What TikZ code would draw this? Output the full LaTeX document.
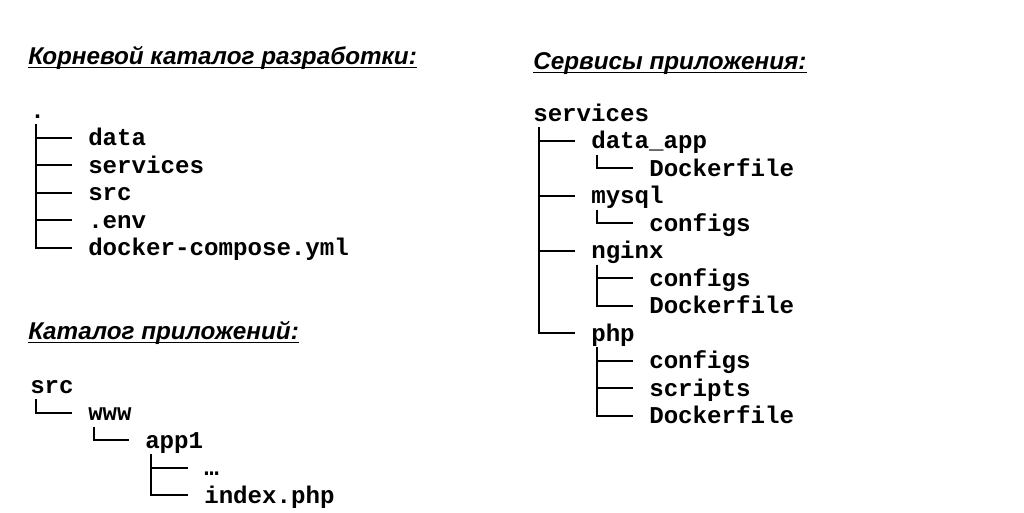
\documentclass[tikz,border=0pt]{standalone}
\usepackage{fontspec}
\usetikzlibrary{positioning}
\newfontfamily\treefont{Liberation Mono}
\newfontfamily\headfont{Liberation Sans}

\tikzset{
  entry/.style={font={\treefont\bfseries\fontsize{18.1pt}{20pt}\selectfont}, inner sep=0pt, anchor=base west},
  heading/.style={font={\headfont\bfseries\itshape\fontsize{18.2pt}{22pt}\selectfont}, inner sep=0pt, anchor=base west},
  branch/.style={line width=1.5pt, line cap=butt},
  uline/.style={line width=1.2pt}
}

\begin{document}
\begin{tikzpicture}[x=0.75pt,y=0.75pt]
    \useasboundingbox[fill=white] (0,0) rectangle (1024,512);

    % headings
    \node[heading] (h1) at (28,448) {Корневой каталог разработки:};
    \node[heading] (h2) at (28,173) {Каталог приложений:};
    \node[heading] (h3) at (533,443) {Сервисы приложения:};
    \foreach \h in {h1,h2,h3}
      \draw[uline] ([yshift=-2.6pt]\h.base west) -- ([yshift=-2.6pt]\h.base east);

    % root directory
    \node[entry] (r) at (30,394) {.};
    \node[entry, below right=20.625pt and 43.5pt of r.base west, anchor=base west] (r1) {data};
    \node[entry, below=20.625pt of r1.base west, anchor=base west] (r2) {services};
    \node[entry, below=20.625pt of r2.base west, anchor=base west] (r3) {src};
    \node[entry, below=20.625pt of r3.base west, anchor=base west] (r4) {.env};
    \node[entry, below=20.625pt of r4.base west, anchor=base west] (r5) {docker-compose.yml};

    % application directory
    \node[entry] (s) at (30,119) {src};
    \node[entry, below right=20.625pt and 43.5pt of s.base west, anchor=base west] (w) {www};
    \node[entry, below right=20.625pt and 42.75pt of w.base west, anchor=base west] (a) {app1};
    \node[entry, below right=20.625pt and 44.25pt of a.base west, anchor=base west] (a1) {…};
    \node[entry, below=20.625pt of a1.base west, anchor=base west] (a2) {index.php};

    % services
    \node[entry] (sv) at (533,391) {services};
    \node[entry, below right=20.625pt and 43.5pt of sv.base west, anchor=base west] (d) {data\_app};
    \node[entry, below right=20.625pt and 43.5pt of d.base west, anchor=base west] (d1) {Dockerfile};
    \node[entry, below left=20.625pt and 43.5pt of d1.base west, anchor=base west] (m) {mysql};
    \node[entry, below right=20.625pt and 43.5pt of m.base west, anchor=base west] (m1) {configs};
    \node[entry, below left=20.625pt and 43.5pt of m1.base west, anchor=base west] (n) {nginx};
    \node[entry, below right=20.625pt and 43.5pt of n.base west, anchor=base west] (n1) {configs};
    \node[entry, below=20.625pt of n1.base west, anchor=base west] (n2) {Dockerfile};
    \node[entry, below left=20.625pt and 43.5pt of n2.base west, anchor=base west] (p) {php};
    \node[entry, below right=20.625pt and 43.5pt of p.base west, anchor=base west] (p1) {configs};
    \node[entry, below=20.625pt of p1.base west, anchor=base west] (p2) {scripts};
    \node[entry, below=20.625pt of p2.base west, anchor=base west] (p3) {Dockerfile};

    % tree branches
    \foreach \u/\v in {r/r1,r/r2,r/r3,r/r4,r/r5,s/w,w/a,a/a1,a/a2,
                       sv/d,sv/m,sv/n,sv/p,d/d1,m/m1,n/n1,n/n2,p/p1,p/p2,p/p3}
      \draw[branch] ([xshift=4.5pt,yshift=-4.5pt]\u.base west) |- ([xshift=-12pt,yshift=6pt]\v.base west);
\end{tikzpicture}
\end{document}
